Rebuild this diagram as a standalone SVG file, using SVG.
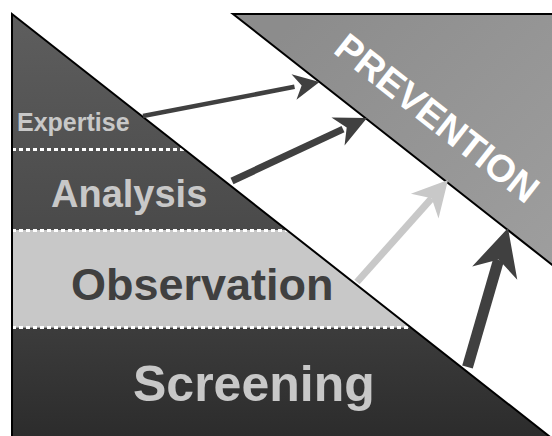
<svg xmlns="http://www.w3.org/2000/svg" width="552" height="436" viewBox="0 0 552 436">
<style>
.lbl{font-family:"Liberation Sans",Arial,sans-serif;font-weight:bold}
.light{fill:#c8c8c8}
.dots{stroke:#ffffff;stroke-width:3;stroke-dasharray:4 3;fill:none}
.edge{fill:none;stroke:#000;stroke-width:2;stroke-linejoin:miter}
.dark{fill:#404040;stroke:none}
.pale{fill:#c8c8c8;stroke:none}
.shaft-d{stroke:#404040;fill:none}
.shaft-l{stroke:#c8c8c8;fill:none}
</style>
<defs>
<clipPath id="tri"><polygon points="12,14 12,440 554,440"/></clipPath>
<linearGradient id="gTop" x1="0" y1="14" x2="0" y2="230" gradientUnits="userSpaceOnUse">
<stop offset="0" stop-color="#5e5e5e"/><stop offset="1" stop-color="#4a4a4a"/>
</linearGradient>
<linearGradient id="gScr" x1="0" y1="327" x2="0" y2="436" gradientUnits="userSpaceOnUse">
<stop offset="0" stop-color="#3c3c3c"/><stop offset="1" stop-color="#2c2c2c"/>
</linearGradient>
<linearGradient id="gPrev" x1="300" y1="14" x2="552" y2="265" gradientUnits="userSpaceOnUse">
<stop offset="0" stop-color="#8c8c8c"/><stop offset="1" stop-color="#9e9e9e"/>
</linearGradient>
<path id="head" d="M0,0 L-1,-0.5 L-0.7,0 L-1,0.5 Z"/>
</defs>
<rect width="552" height="436" fill="#ffffff"/>

<g id="pyramid">
<g clip-path="url(#tri)">
<rect x="0" y="0" width="560" height="230" fill="url(#gTop)"/>
<rect x="0" y="230" width="560" height="97.5" fill="#c8c8c8"/>
<rect x="0" y="327.5" width="560" height="120" fill="url(#gScr)"/>
<line class="dots" x1="12" y1="149.5" x2="560" y2="149.5"/>
<line class="dots" x1="12" y1="230.5" x2="560" y2="230.5"/>
<line class="dots" x1="12" y1="327.5" x2="560" y2="327.5"/>
</g>
<polygon class="edge" points="12,14 12,440 554,440" stroke-width="2"/>
</g>

<g id="expertise"><text class="lbl light" x="17" y="131" font-size="25">Expertise</text></g>
<g id="analysis"><text class="lbl light" x="51" y="207" font-size="38">Analysis</text></g>
<g id="observation"><text class="lbl" x="71" y="300" font-size="45" fill="#404040">Observation</text></g>
<g id="screening"><text class="lbl light" x="133" y="401" font-size="50">Screening</text></g>

<g id="prevention">
<polygon points="233,14 560,14 560,271" fill="url(#gPrev)" stroke="#000" stroke-width="2"/>
<text class="lbl" x="0" y="0" font-size="38" fill="#ffffff" transform="translate(332,52) rotate(38.2)">PREVENTION</text>
</g>

<g id="connectors">
<g id="arrow1">
<line class="shaft-d" x1="143" y1="116" x2="294.5" y2="86.8" stroke-width="4.5"/>
<use href="#head" class="dark" transform="translate(319.5,82) rotate(-10.93) scale(26,26)"/>
</g>
<g id="arrow2">
<line class="shaft-d" x1="232" y1="181" x2="343" y2="129.2" stroke-width="7"/>
<use href="#head" class="dark" transform="translate(367,118) rotate(-25) scale(32,31)"/>
</g>
<g id="arrow3">
<line class="shaft-l" x1="357" y1="282" x2="431.6" y2="198.4" stroke-width="7"/>
<use href="#head" class="pale" transform="translate(448,180) rotate(-48.3) scale(35,37)"/>
</g>
<g id="arrow4">
<line class="shaft-d" x1="467.5" y1="367" x2="498.6" y2="259.9" stroke-width="11"/>
<use href="#head" class="dark" transform="translate(508,228) rotate(-73.6) scale(47,47)"/>
</g>
</g>
</svg>
